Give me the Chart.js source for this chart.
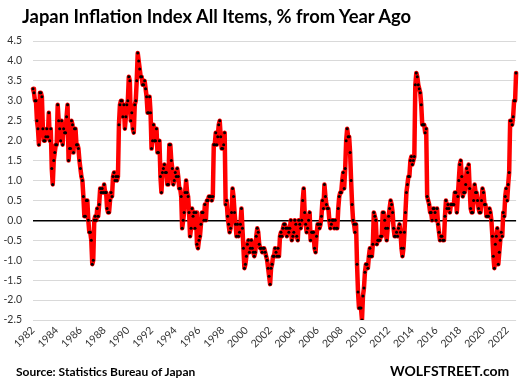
<!DOCTYPE html>
<html>
<head>
<meta charset="utf-8">
<script src="https://cdn.jsdelivr.net/npm/chart.js@4.4.0/dist/chart.umd.min.js"></script>
<style>
  body { margin: 0; background: #fff; }
  #wrap { position: relative; width: 529px; height: 391px; overflow: hidden; }
  #chart { position: absolute; left: 0; top: 0; }
  .txt { position: absolute; white-space: nowrap; font-family: Lato, sans-serif; font-weight: bold; color: #000; line-height: 1.2; }
  #title { left: 22px; top: 5px; font-size: 18.4px; }
  #source { left: 16px; top: 365px; font-size: 12px; }
  #brand { left: 390px; top: 363px; font-size: 14px; }
</style>
</head>
<body>
<div id="wrap">
  <canvas id="chart" width="529" height="391"></canvas>
  <div class="txt" id="title">Japan Inflation Index All Items, % from Year Ago</div>
  <div class="txt" id="source">Source: Statistics Bureau of Japan</div>
  <div class="txt" id="brand">WOLFSTREET.com</div>
</div>
<script>
/////////////////////////////// data ///////////////////////////////
// CPI all items, % change from a year earlier, monthly from Jan 1982
const startYear = 1982;

const cpi1980s = [
  3.3, 3.2, 3.0, 3.0, 2.5, 2.3, 1.9, 3.2, 3.2, 3.1, 2.3, 2.0,   // 1982
  2.0, 2.1, 2.3, 2.1, 2.7, 2.0, 2.3, 1.3, 0.9, 1.5, 1.7, 1.9,   // 1983
  1.9, 2.9, 2.5, 2.3, 2.0, 2.5, 1.9, 2.3, 2.2, 2.2, 2.6, 2.9,   // 1984
  1.5, 1.8, 1.8, 2.5, 2.4, 1.7, 2.3, 2.3, 1.9, 1.9, 1.8, 1.5,   // 1985
  1.3, 1.1, 1.0, 0.6, 0.1, 0.1, 0.5, 0.5, 0.0, -0.3, -0.3, -0.5, // 1986
  -1.1, -1.0, 0.0, 0.1, 0.0, 0.3, 0.1, 0.4, 0.8, 0.7, 0.8, 0.7, // 1987
  0.9, 0.7, 0.7, 0.3, 0.2, 0.2, 0.5, 0.7, 0.6, 1.1, 1.2, 1.0,   // 1988
  1.1, 1.0, 1.1, 2.4, 2.9, 3.0, 3.0, 2.6, 2.9, 2.3, 2.6, 2.9    // 1989
];

const cpi1990s = [
  3.0, 3.6, 3.5, 2.5, 2.7, 2.3, 2.2, 2.9, 3.0, 3.5, 4.2, 4.0,   // 1990
  3.8, 3.6, 3.6, 3.4, 3.4, 3.5, 3.3, 3.1, 2.7, 2.7, 3.1, 2.7,   // 1991
  1.8, 2.0, 2.4, 2.0, 2.0, 2.3, 1.7, 1.7, 2.0, 1.1, 0.7, 1.2,   // 1992
  1.3, 1.4, 1.2, 1.2, 0.9, 0.9, 1.9, 1.9, 1.5, 1.3, 0.9, 1.0,   // 1993
  1.2, 1.1, 1.3, 1.1, 0.8, 0.8, 0.6, -0.2, 0.0, 0.2, 0.7, 1.0,  // 1994
  0.7, 0.6, 0.2, -0.4, -0.2, 0.3, 0.1, 0.2, -0.2, 0.2, -0.6, -0.7, // 1995
  -0.5, -0.4, -0.1, 0.2, 0.2, 0.0, 0.4, 0.0, 0.5, 0.5, 0.6, 0.6, // 1996
  0.6, 0.5, 0.6, 1.9, 1.9, 2.2, 1.9, 2.1, 2.4, 2.5, 2.1, 1.8,   // 1997
  1.8, 1.9, 2.2, 0.4, 0.5, 0.1, -0.1, -0.3, -0.2, 0.2, 0.8, 0.6, // 1998
  0.2, -0.1, -0.4, -0.1, -0.4, -0.3, -0.1, 0.3, -0.2, -0.7, -1.2, -1.1 // 1999
];

const cpi2000s = [
  -0.9, -0.6, -0.5, -0.8, -0.7, -0.5, -0.7, -0.8, -0.9, -0.8, -0.4, -0.2, // 2000
  -0.3, -0.6, -0.7, -0.7, -0.8, -0.7, -0.7, -0.8, -0.9, -1.0, -1.2, -1.4, // 2001
  -1.6, -1.2, -1.1, -0.9, -0.9, -0.7, -0.8, -0.9, -0.7, -0.9, -0.4, -0.3, // 2002
  -0.4, -0.2, -0.1, -0.1, -0.2, -0.4, -0.2, -0.3, -0.2, 0.0, -0.5, -0.4,  // 2003
  -0.3, 0.0, -0.1, -0.4, -0.5, 0.0, -0.1, -0.2, 0.0, 0.5, 0.8, 0.2,      // 2004
  -0.1, -0.3, -0.2, 0.0, 0.2, -0.5, -0.3, -0.3, -0.3, -0.7, -0.8, -0.4,  // 2005
  -0.1, -0.1, -0.2, -0.1, 0.1, 0.5, 0.3, 0.9, 0.6, 0.4, 0.3, 0.3,        // 2006
  0.0, -0.2, -0.1, 0.0, 0.0, -0.2, 0.0, -0.2, -0.2, 0.3, 0.6, 0.7,       // 2007
  0.7, 1.0, 1.2, 0.8, 1.3, 2.0, 2.3, 2.1, 2.1, 1.7, 1.0, 0.4,            // 2008
  0.0, -0.1, -0.3, -0.1, -1.1, -1.8, -2.2, -2.2, -2.2, -2.5, -1.9, -1.7  // 2009
];

const cpi2010s = [
  -1.3, -1.1, -1.1, -1.2, -0.9, -0.7, -0.9, -0.9, -0.6, 0.2, 0.1, 0.0,  // 2010
  -0.6, -0.5, -0.5, -0.5, -0.4, -0.4, 0.2, 0.2, 0.0, -0.2, -0.5, -0.2,  // 2011
  0.1, 0.3, 0.5, 0.4, 0.2, -0.2, -0.4, -0.4, -0.3, -0.4, -0.2, -0.1,    // 2012
  -0.3, -0.7, -0.9, -0.7, -0.3, 0.2, 0.7, 0.9, 1.1, 1.1, 1.5, 1.6,      // 2013
  1.4, 1.5, 1.6, 3.4, 3.7, 3.6, 3.4, 3.3, 3.2, 2.9, 2.4, 2.4,           // 2014
  2.4, 2.2, 2.3, 0.6, 0.5, 0.4, 0.2, 0.2, 0.0, 0.3, 0.3, 0.2,           // 2015
  0.0, 0.3, -0.1, -0.3, -0.5, -0.4, -0.4, -0.5, -0.5, 0.1, 0.5, 0.3,    // 2016
  0.4, 0.3, 0.2, 0.4, 0.4, 0.4, 0.4, 0.7, 0.7, 0.2, 0.6, 1.0,           // 2017
  1.4, 1.5, 1.1, 0.6, 0.7, 0.7, 0.9, 1.3, 1.2, 1.4, 0.8, 0.3,           // 2018
  0.2, 0.2, 0.5, 0.9, 0.7, 0.7, 0.5, 0.3, 0.2, 0.2, 0.5, 0.8            // 2019
];

const cpi2020s = [
  0.7, 0.4, 0.4, 0.1, 0.1, 0.1, 0.3, 0.2, 0.0, -0.4, -0.9, -1.2,        // 2020
  -0.6, -0.4, -0.2, -1.1, -0.8, -0.5, -0.3, -0.4, 0.2, 0.1, 0.6, 0.8,   // 2021
  0.5, 0.9, 1.2, 2.5, 2.5, 2.4, 2.6, 3.0, 3.0, 3.7                      // 2022 (to Oct)
];

const tickYears = ['1982', '1984', '1986', '1988', '1990', '1992', '1994', '1996', '1998',
  '2000', '2002', '2004', '2006', '2008', '2010', '2012', '2014', '2016', '2018', '2020', '2022'];

const yMin = -2.5, yMax = 4.5, yStep = 0.5;

/////////////////////////////// chart ///////////////////////////////
const values = [...cpi1980s, ...cpi1990s, ...cpi2000s, ...cpi2010s, ...cpi2020s];

// one category per month, e.g. "1982-01"
const months = values.map((v, i) => {
  const yr = startYear + Math.floor(i / 12);
  const mo = (i % 12) + 1;
  return `${yr}-${mo < 10 ? '0' + mo : mo}`;
});

const ctx = document.getElementById('chart').getContext('2d');
const tickFont = { family: 'Lato', size: 10.5 };

new Chart(ctx, {
  type: 'line',
  data: {
    labels: months,
    datasets: [{
      data: values,
      borderColor: '#ff0000',
      borderWidth: 4.5,
      tension: 0,
      pointRadius: 1.5,
      pointBorderWidth: 0,
      pointBackgroundColor: '#000000',
      borderJoinStyle: 'round',
      borderCapStyle: 'round'
    }]
  },
  options: {
    responsive: false,
    animation: false,
    devicePixelRatio: 1,
    layout: { padding: { top: 41, right: 8, bottom: 0, left: 0 } },
    plugins: {
      legend: { display: false },
      tooltip: { enabled: false },
      title: { display: false }
    },
    scales: {
      x: {
        grid: { display: false, drawTicks: false },
        border: { display: false },
        afterFit: scale => { scale.height = 71; },
        ticks: {
          autoSkip: false,
          minRotation: 45,
          maxRotation: 45,
          padding: 4,
          color: '#333333',
          font: tickFont,
          callback: function (val, i) {
            const lab = months[i];
            if (i % 12 !== 0) return '';
            const yr = lab.slice(0, 4);
            return tickYears.includes(yr) ? yr : '';
          }
        }
      },
      y: {
        min: yMin,
        max: yMax,
        afterFit: scale => { scale.width = 33; },
        border: { display: false },
        grid: {
          drawTicks: false,
          color: c => (c.tick && c.tick.value === 0 ? '#000000' : '#d9d9d9'),
          lineWidth: c => (c.tick && c.tick.value === 0 ? 1.5 : 1)
        },
        ticks: {
          stepSize: yStep,
          padding: 11,
          color: '#333333',
          font: tickFont,
          callback: v => v.toFixed(1)
        }
      }
    }
  }
});
</script>
</body>
</html>
